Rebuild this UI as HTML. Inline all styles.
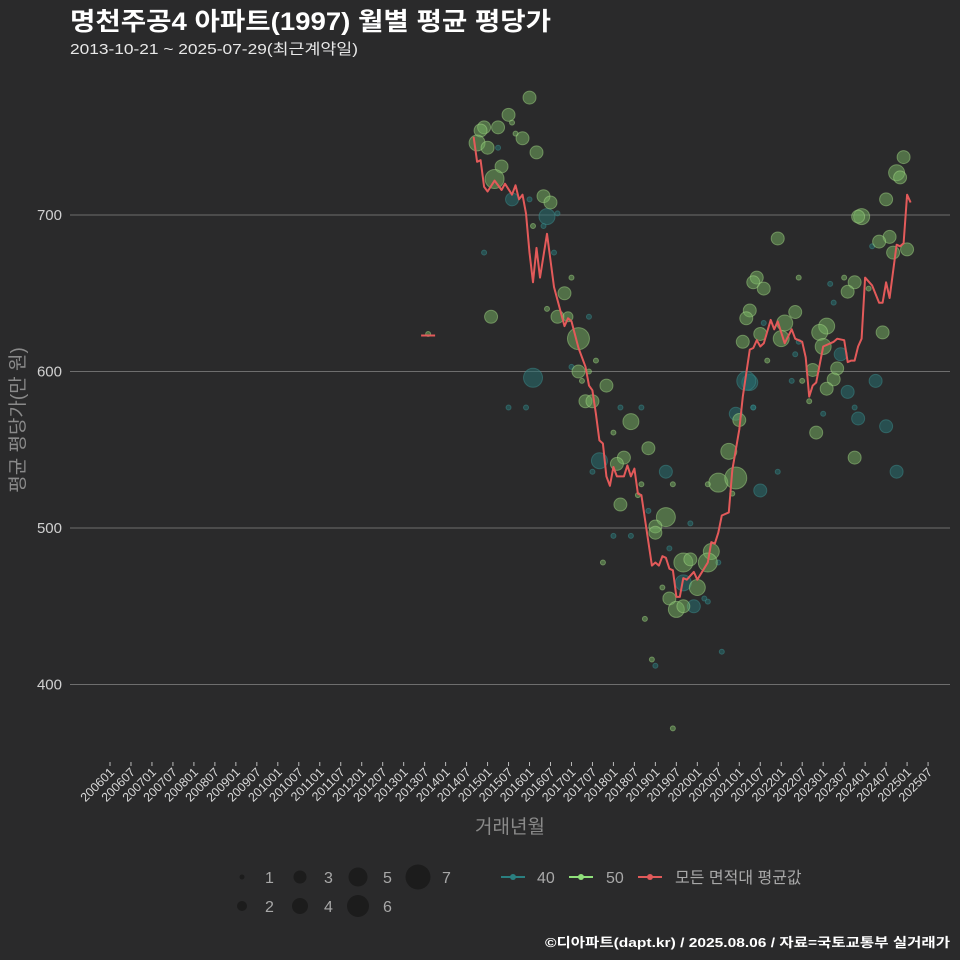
<!DOCTYPE html>
<html><head><meta charset="utf-8">
<style>
html,body{margin:0;padding:0;background:#2a2a2b;}
svg{display:block;font-family:"Liberation Sans","Noto Sans CJK KR",sans-serif;}
</style></head>
<body>
<svg id="chart" width="960" height="960" viewBox="0 0 960 960" xmlns="http://www.w3.org/2000/svg">
<rect width="960" height="960" fill="#2a2a2b"/>
<text x="70" y="30" fill="#ffffff" font-size="25" font-weight="bold" textLength="481" lengthAdjust="spacingAndGlyphs">명천주공4 아파트(1997) 월별 평균 평당가</text>
<text x="70" y="54" fill="#e8e8e8" font-size="15" textLength="288" lengthAdjust="spacingAndGlyphs">2013-10-21 ~ 2025-07-29(최근계약일)</text>
<g id="grid"></g>
<g id="xaxis"></g>
<g id="b40"></g>
<g id="g50"></g>
<g id="avgline"></g>
<text x="510" y="833" fill="#8a8a8a" font-size="19" text-anchor="middle">거래년월</text>
<text transform="translate(24,420) rotate(-90)" fill="#8a8a8a" font-size="19" text-anchor="middle">평균 평당가(만 원)</text>
<g font-size="16" fill="#a8a8a8">
  <g fill="#1c1c1c">
    <circle cx="242" cy="877" r="2.5"/>
    <circle cx="300" cy="877" r="6.5"/>
    <circle cx="358" cy="877" r="9.5"/>
    <circle cx="418" cy="877" r="12.5"/>
    <circle cx="242" cy="906" r="5"/>
    <circle cx="300" cy="906" r="8"/>
    <circle cx="358" cy="906" r="11"/>
  </g>
  <text x="265" y="883">1</text>
  <text x="324" y="883">3</text>
  <text x="383" y="883">5</text>
  <text x="442" y="883">7</text>
  <text x="265" y="912">2</text>
  <text x="324" y="912">4</text>
  <text x="383" y="912">6</text>
  <line x1="501" y1="877" x2="525" y2="877" stroke="#2a7f80" stroke-width="2"/>
  <circle cx="513" cy="877" r="3" fill="#2a7f80"/>
  <text x="537" y="883">40</text>
  <line x1="569" y1="877" x2="593" y2="877" stroke="#8fe07a" stroke-width="2"/>
  <circle cx="581" cy="877" r="3" fill="#8fe07a"/>
  <text x="606" y="883">50</text>
  <line x1="638" y1="877" x2="662" y2="877" stroke="#e05a5a" stroke-width="2"/>
  <circle cx="650" cy="877" r="3" fill="#e05a5a"/>
  <text x="675" y="883">모든 면적대 평균값</text>
</g>
<text x="950" y="947" fill="#ffffff" font-size="13" font-weight="bold" text-anchor="end" textLength="405" lengthAdjust="spacingAndGlyphs">©디아파트(dapt.kr) / 2025.08.06 / 자료=국토교통부 실거래가</text>
</svg>
<script>
// months are counted from 2006-01 (index 0)
const yTicks = [400, 500, 600, 700];
const xTickLabels = [];
for (let y = 2006; y <= 2025; y++) { xTickLabels.push(y + "01"); if (y * 100 + 7 <= 202507) xTickLabels.push(y + "07"); }

const avgMonths = [104,105,106,107,108,110,112,113,115,116,117,118,119,120,121,122,123,125,127,130,131,132,134,136,137,138,139,140,141,142,143,144,145,147,148,149,150,151,152,155,156,157,158,159,160,161,162,163,164,165,167,168,171,172,173,174,175,177,178,180,181,183,184,185,186,187,189,190,191,193,195,196,198,199,200,201,202,204,207,208,210,211,212,213,214,215,216,218,220,221,222,223,225,226,227,228,229];
const avgValues = [750,734,735,718,715,722,716,720,713,719,710,713,701,676,657,679,660,688,654,629,634,632,615,603,591,588,573,556,554,533,527,539,533,533,540,533,538,522,521,476,478,476,482,481,474,473,456,456,468,467,472,467,478,491,490,497,508,510,537,563,584,614,615,620,616,618,633,627,632,618,627,621,619,609,584,591,593,616,619,621,620,606,607,607,616,621,660,655,644,644,657,647,681,680,682,713,708];
const earlyMonths = [89, 93];
const earlyValues = [623, 623];

const g50Months = [120,114,107,106,111,115,116,118,105,108,122,112,110,124,126,121,132,130,125,128,131,134,109,139,134,137,135,142,136,138,149,144,154,147,145,152,161,146,151,159,156,156,141,164,166,172,171,168,158,160,162,164,153,155,161,174,179,177,180,171,178,227,225,226,222,215,214,191,223,220,224,228,185,184,187,197,210,213,211,217,183,182,196,205,203,193,186,192,181,204,221,188,208,201,198,207,205,200,202,213,91];
const g50Values = [775,764,756,754,756,759,752,749,746,743,740,731,723,712,708,693,660,650,640,635,635,621,635,607,600,600,594,591,581,581,568,561,551,545,541,528,528,515,521,507,501,497,478,478,480,485,478,462,462,455,448,450,442,416,372,529,532,549,569,528,522,737,727,724,710,699,699,685,686,683,676,678,660,657,653,660,660,657,651,653,639,634,638,629,625,631,624,621,619,616,625,607,602,601,594,595,589,581,561,545,624];
const g50Counts = [3,3,3,3,3,1,1,3,4,3,3,3,5,3,3,1,1,3,1,3,2,6,3,1,3,1,1,3,3,3,4,1,3,3,3,1,1,3,1,5,3,3,1,5,3,4,5,4,1,3,4,3,1,1,1,5,6,4,3,1,1,3,4,3,3,4,3,3,3,3,3,3,3,3,3,1,1,3,3,1,3,3,3,4,4,4,3,4,3,4,3,1,3,3,1,3,3,1,3,3,1];

const b40Months = [111,115,120,125,128,124,107,127,137,132,121,114,119,146,152,140,159,138,154,144,149,166,160,174,164,167,170,171,156,175,183,184,218,206,207,187,197,196,209,182,219,195,211,184,213,179,214,222,204,225,191,186];
const b40Values = [743,710,710,699,701,693,676,676,635,603,596,577,577,577,577,543,536,536,511,495,495,503,487,478,465,450,455,453,412,421,593,577,680,656,644,631,619,611,611,594,594,594,587,577,577,573,570,565,573,536,536,524];
const b40Counts = [1,3,1,4,1,1,1,1,1,1,5,1,1,1,1,4,3,1,1,1,1,1,1,1,4,3,1,1,1,1,4,1,1,1,1,1,1,1,3,5,3,1,3,1,1,3,3,3,1,3,1,3];

const NS = "http://www.w3.org/2000/svg";
const xScale = m => 110 + m * 3.496;
const yScale = v => 215 + (700 - v) * 1.5652;
const rScale = c => [0, 2.5, 5, 6.5, 8, 9.5, 11, 12.5][Math.max(1, Math.min(7, c))];
function mk(tag, attrs, parent) { const e = document.createElementNS(NS, tag); for (const k in attrs) e.setAttribute(k, attrs[k]); parent.appendChild(e); return e; }

const grid = document.getElementById("grid");
yTicks.forEach(v => {
  const l = mk("line", {x1: 70, x2: 950, y1: yScale(v), y2: yScale(v), stroke: "#6e6e6e", "stroke-width": 1}, grid);
  
  
  const t = mk("text", {x: 62, y: yScale(v) + 5, fill: "#d0d0d0", "font-size": 15, "text-anchor": "end"}, grid);
  
  
  t.textContent = v;
});

const xaxis = document.getElementById("xaxis");
xTickLabels.forEach((lab, i) => {
  const x = xScale(i * 6);
  const tk = mk("line", {x1: x, x2: x, y1: 762, y2: 766, stroke: "#bbbbbb", "stroke-width": 1}, xaxis);
  
  
  const t = mk("text", {x: 0, y: 0, fill: "#d8d8d8", "font-size": 12.5, "text-anchor": "end", transform: `translate(${x + 5},${773}) rotate(-45)`}, xaxis);
  
  
  t.textContent = lab;
});

function bubbles(gid, months, values, counts, fill, stroke) {
  const g = document.getElementById(gid);
  const n = Math.min(months.length, values.length, counts.length);
  for (let i = 0; i < n; i++) {
    const c = mk("circle", {cx: xScale(months[i]), cy: yScale(values[i]), r: rScale(counts[i]), fill: fill, stroke: stroke, "stroke-width": 1}, g);
    
    
  }
}
bubbles("b40", b40Months, b40Values, b40Counts, "rgba(38,110,112,0.55)", "rgba(60,140,140,0.5)");
bubbles("g50", g50Months, g50Values, g50Counts, "rgba(120,180,100,0.5)", "rgba(170,225,140,0.45)");

const lg = document.getElementById("avgline");
function line(months, values, name) {
  const pts = months.map((m, i) => xScale(m).toFixed(1) + "," + yScale(values[i]).toFixed(1)).join(" ");
  const p = mk("polyline", {points: pts, fill: "none", stroke: "#e35a5a", "stroke-width": 2, "stroke-linejoin": "round"}, lg);
  
  
}
line(earlyMonths, earlyValues, 'average-line-2013');
line(avgMonths, avgValues, 'average-line');
</script>
</body></html>
